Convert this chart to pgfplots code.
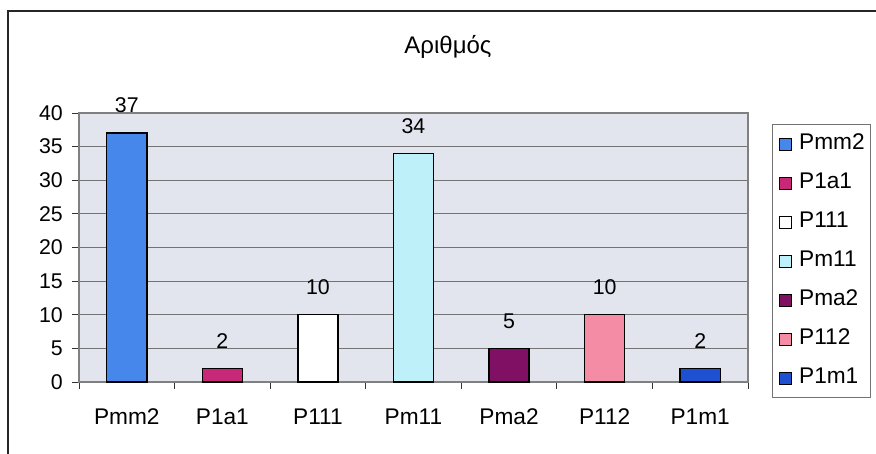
\documentclass[border=0pt]{standalone}
\usepackage{fontspec}
\setmainfont{Liberation Sans}
\usepackage{pgfplots}
\pgfplotsset{compat=1.18}
\definecolor{cA}{RGB}{70,135,235}
\definecolor{cB}{RGB}{200,40,120}
\definecolor{cC}{RGB}{255,255,255}
\definecolor{cD}{RGB}{190,240,250}
\definecolor{cE}{RGB}{128,16,100}
\definecolor{cF}{RGB}{245,140,165}
\definecolor{cG}{RGB}{30,80,210}
\definecolor{bgc}{RGB}{226,228,238}
\begin{document}
\begin{tikzpicture}
\path[use as bounding box] (0,0) rectangle (657pt,340.5pt);
\draw[line width=1.2pt, black!85] (6pt,0) -- (6pt,332.25pt) -- (657pt,332.25pt);
\node[font=\fontsize{18}{20}\selectfont] at (336pt,305.25pt) {Αριθμός};
\begin{axis}[
  at={(59.25pt,54pt)}, anchor=south west, scale only axis,
  width=501.75pt, height=201.75pt,
  xmin=-0.5, xmax=6.5, ymin=0, ymax=40,
  ytick={0,5,...,40},
  xtick={0,...,6},
  xticklabels={Pmm2,P1a1,P111,Pm11,Pma2,P112,P1m1},
  minor xtick={-0.5,0.5,...,6.5},
  major x tick style={draw=none},
  tick align=outside, tick pos=left,
  major tick length=5pt, minor tick length=5pt,
  tick style={black!80, line width=0.6pt},
  ymajorgrids,
  grid style={black!55, line width=0.6pt},
  axis background/.style={fill=bgc},
  axis line style={black!50, line width=0.8pt},
  xticklabel style={font=\fontsize{17}{19}\selectfont, inner sep=0pt, yshift=-15pt},
  yticklabel style={font=\fontsize{16}{18}\selectfont, inner sep=0pt, xshift=-7pt},
  /pgf/number format/assume math mode=true,
  ybar, bar width=0.42, bar shift=0pt,
  nodes near coords,
  nodes near coords style={font=\fontsize{16}{18}\selectfont, inner sep=2pt, yshift=12.5pt, black},
  every axis plot/.append style={draw=black, line width=1.1pt},
  legend style={at={(rel axis cs:1.036,0.959)}, anchor=north west,
    draw=black!55, line width=0.6pt, font=\fontsize{17}{19}\selectfont,
    inner xsep=4pt, inner ysep=7pt, row sep=13.75pt,
    nodes={inner sep=0pt, text height=12pt, text depth=3.5pt}},
  legend cell align=left,
  legend image code/.code={\draw[#1, line width=0.6pt, draw=black] (1.5pt,-4.5pt) rectangle (10.5pt,4.5pt); \path[draw=none, fill=none] (0pt,0pt) -- (16pt,0pt);},
]
\addplot[fill=cA] coordinates {(0,37)};
\addplot[fill=cB] coordinates {(1,2)};
\addplot[fill=cC] coordinates {(2,10)};
\addplot[fill=cD] coordinates {(3,34)};
\addplot[fill=cE] coordinates {(4,5)};
\addplot[fill=cF] coordinates {(5,10)};
\addplot[fill=cG] coordinates {(6,2)};
\legend{Pmm2,P1a1,P111,Pm11,Pma2,P112,P1m1}
\end{axis}
\end{tikzpicture}
\end{document}
